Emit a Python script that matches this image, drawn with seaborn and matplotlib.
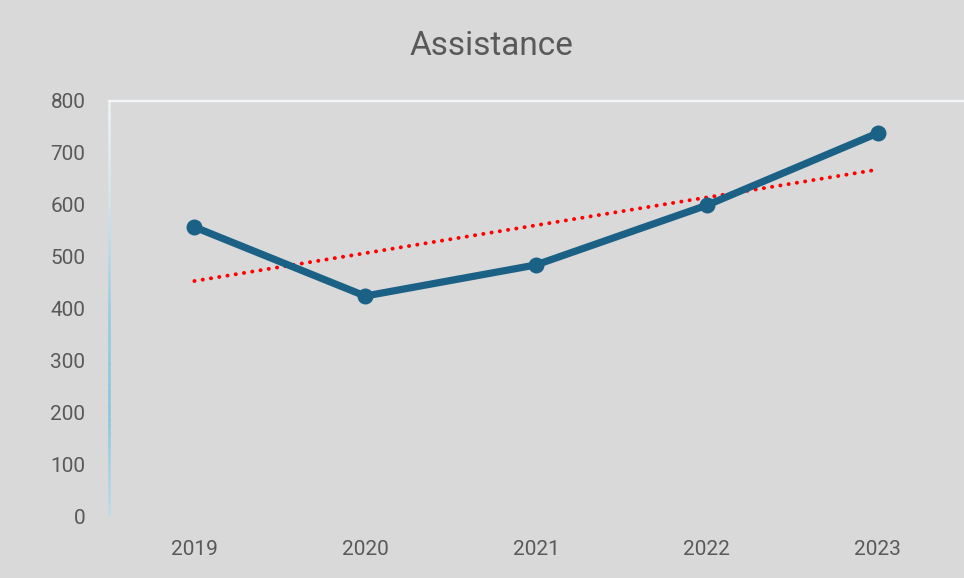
import numpy as np
import pandas as pd
import matplotlib
matplotlib.use("Agg")
import matplotlib.pyplot as plt
import seaborn as sns
from matplotlib.collections import LineCollection
from matplotlib.colors import LinearSegmentedColormap

years = [2019, 2020, 2021, 2022, 2023]
values = [557, 424, 484, 599, 738]
yticks = [0, 100, 200, 300, 400, 500, 600, 700, 800]
title = "Assistance"

df = pd.DataFrame({"year": years, "value": values})

sns.set_theme(style="white")
plt.rcParams["font.family"] = ["Roboto", "DejaVu Sans"]

bg = "#d9d9d9"
fig = plt.figure(figsize=(9.64, 5.78), dpi=100, facecolor=bg)
ax = fig.add_axes([109/964, 62/578, (963-109)/964, (516-101)/578])
ax.set_facecolor(bg)

sns.regplot(data=df, x="year", y="value", ax=ax, scatter=False, ci=None,
            truncate=True,
            line_kws=dict(color="#ff0000", lw=2.8, linestyle=(0, (0.05, 2.1)),
                          dash_capstyle="round", solid_capstyle="round", zorder=2))
sns.lineplot(data=df, x="year", y="value", ax=ax, color="#1b6185", lw=5.2,
             marker="o", markersize=11.5, markeredgewidth=0, zorder=3)

ax.set_xlim(2018.5, 2023.5)
ax.set_ylim(0, 800)
ax.set_xticks(years)
ax.set_xticklabels([str(y) for y in years])
ax.set_yticks(yticks)
ax.set_xlabel("")
ax.set_ylabel("")
ax.tick_params(axis="both", length=0, labelsize=15, labelcolor="#595959")
ax.tick_params(axis="y", pad=17)
ax.tick_params(axis="x", pad=17)
ax.grid(False)

for s in ["right", "bottom", "left"]:
    ax.spines[s].set_visible(False)
ax.spines["top"].set_visible(True)
ax.spines["top"].set_color("#f4f7f9")
ax.spines["top"].set_linewidth(1.6)

# gradient left axis line
n = 200
ys = np.linspace(1, 0, n + 1)
segs = [[(0, ys[i]), (0, ys[i + 1])] for i in range(n)]
cmap = LinearSegmentedColormap.from_list("g", ["#f2f7fa", "#cfe5ee", "#8fcbe4", "#7cc3e2", "#b9dcea"])
lc = LineCollection(segs, colors=cmap(np.linspace(0, 1, n)), linewidths=1.8,
                    transform=ax.transAxes, clip_on=False, zorder=1)
ax.add_collection(lc)

fig.text(491/964, 1 - 46/578, title, ha="center", va="center",
         fontsize=24, color="#595959")

fig.savefig("out.png", dpi=100, facecolor=bg)
